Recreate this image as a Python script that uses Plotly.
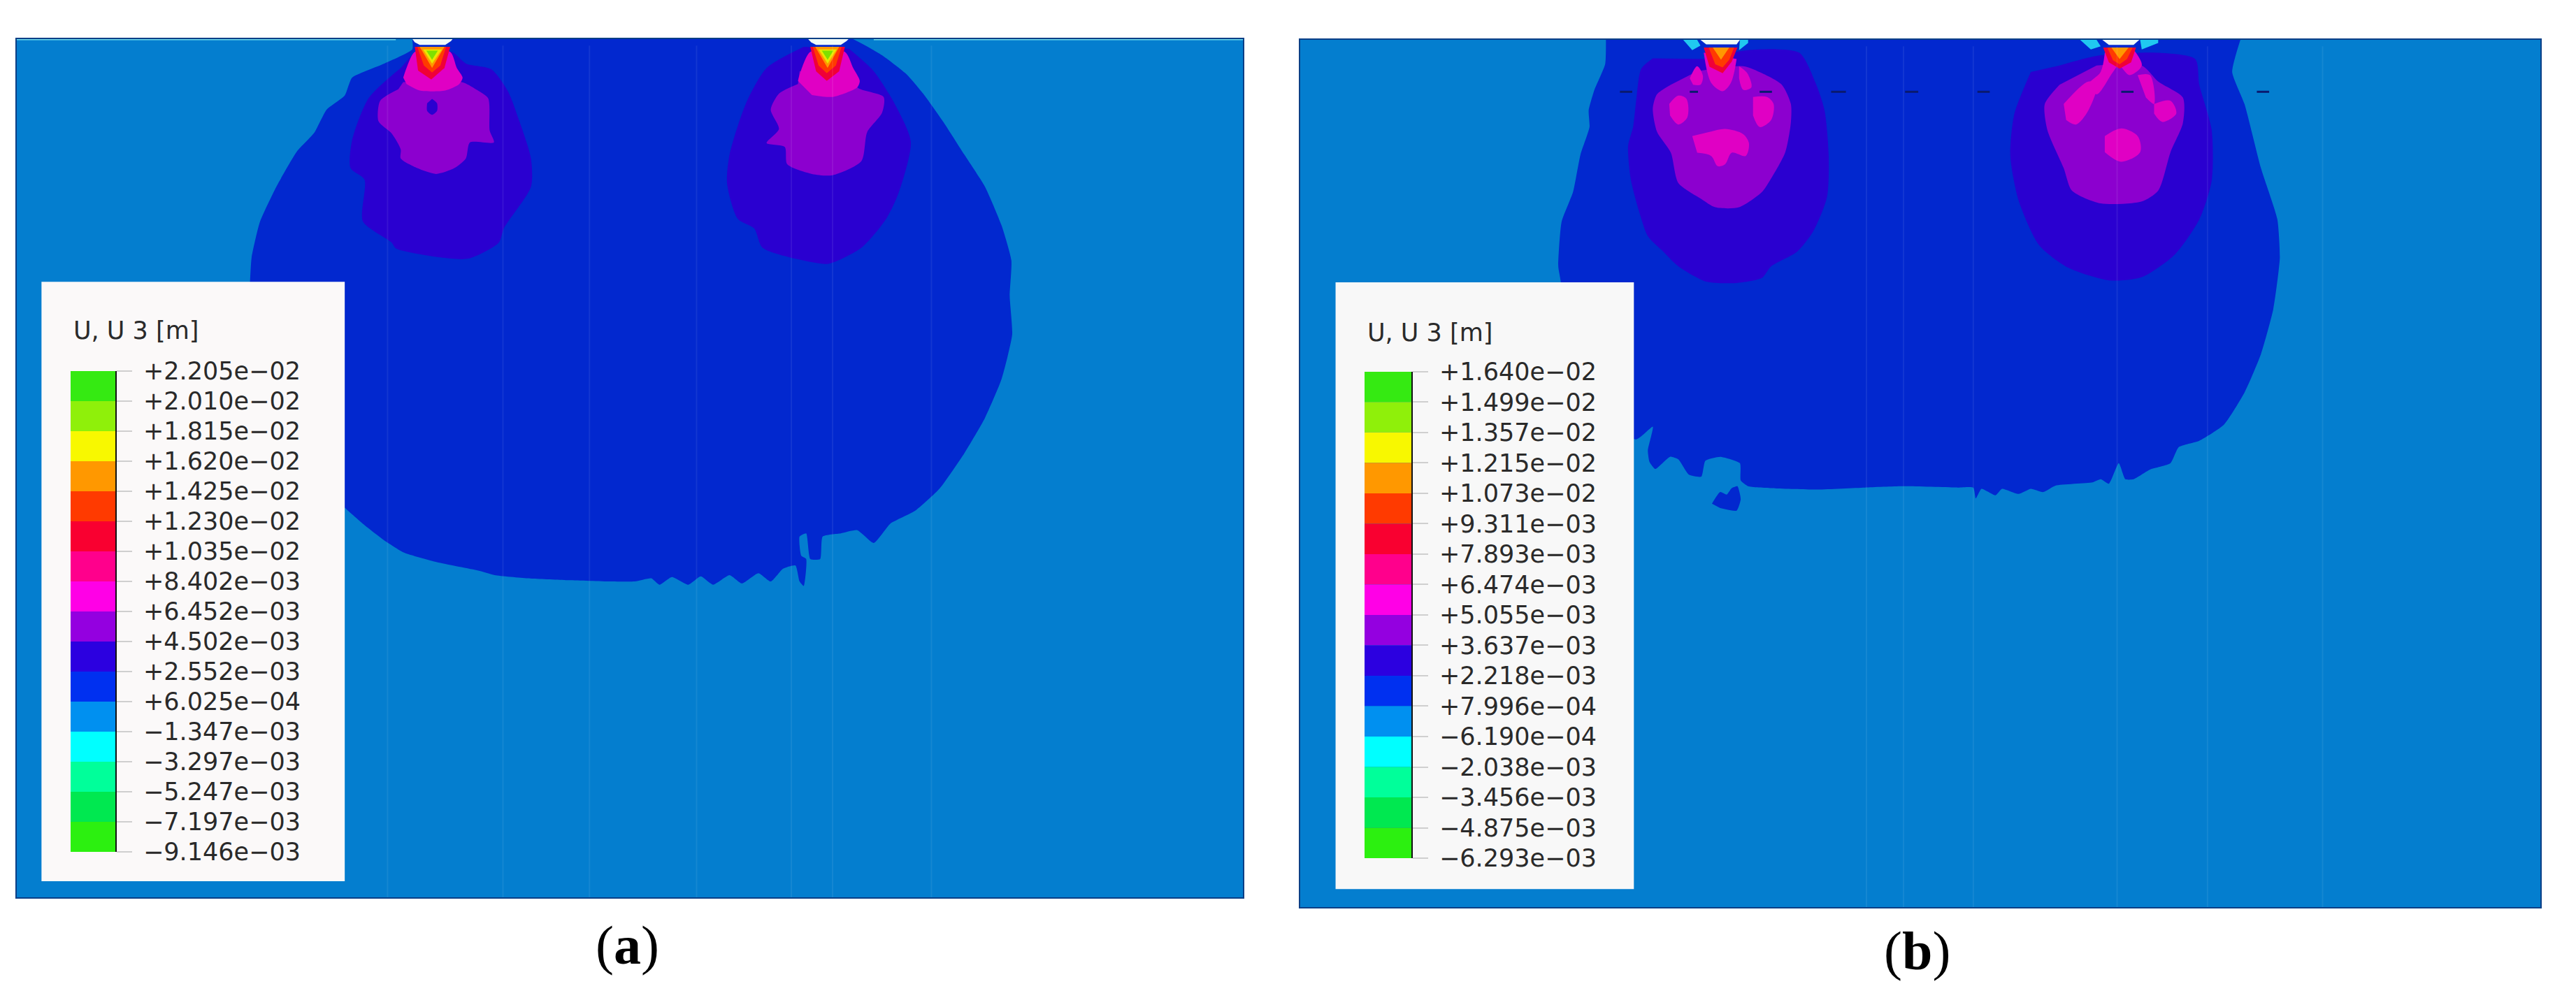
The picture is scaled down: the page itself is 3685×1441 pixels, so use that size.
import plotly.graph_objects as go

W, H = 3685, 1441
PAGE_GAP = 8  # the browser puts this gap round the page body

# colour legend values
labels_a = ['+2.205e−02', '+2.010e−02', '+1.815e−02', '+1.620e−02', '+1.425e−02', '+1.230e−02',
            '+1.035e−02', '+8.402e−03', '+6.452e−03', '+4.502e−03', '+2.552e−03', '+6.025e−04',
            '−1.347e−03', '−3.297e−03', '−5.247e−03', '−7.197e−03', '−9.146e−03']
labels_b = ['+1.640e−02', '+1.499e−02', '+1.357e−02', '+1.215e−02', '+1.073e−02', '+9.311e−03',
            '+7.893e−03', '+6.474e−03', '+5.055e−03', '+3.637e−03', '+2.218e−03', '+7.996e−04',
            '−6.190e−04', '−2.038e−03', '−3.456e−03', '−4.875e−03', '−6.293e−03']
levels_a = [float(s.replace('−', '-')) for s in labels_a]
levels_b = [float(s.replace('−', '-')) for s in labels_b]
band_colors = ['#35ea12', '#8ff00a', '#f8f800', '#ff9800', '#ff3a00', '#f90030', '#ff008c', '#ff00e6',
               '#9400e0', '#2c00e0', '#0030f0', '#0090f0', '#00ffff', '#00ff9a', '#00e850', '#2cf010']
dark_ticks_a = ['+2.205e−02', '+1.425e−02', '+1.230e−02', '+2.552e−03', '+6.025e−04', '−7.197e−03', '−9.146e−03']
dark_ticks_b = ['+1.640e−02', '+1.499e−02', '−6.293e−03']

# contour outlines, panel a
a_blue = [(500, 60), (500, 76), (466, 98), (427, 120), (418, 148), (396, 170), (381, 206), (360, 235), (335, 290),
          (315, 345), (305, 400), (303, 440), (300, 500), (340, 700), (418, 790), (440, 815), (465, 840), (490, 860),
          (530, 875), (580, 888), (600, 895), (640, 900), (690, 903), (740, 905), (770, 905), (790, 900), (800, 910),
          (815, 898), (835, 910), (850, 897), (865, 910), (885, 895), (900, 908), (920, 892), (935, 905), (950, 885),
          (965, 880), (970, 905), (975, 912), (978, 870), (972, 865), (970, 835), (978, 830), (983, 870), (995, 870),
          (998, 835), (1020, 830), (1040, 825), (1060, 845), (1080, 815), (1110, 795), (1140, 760), (1170, 705),
          (1195, 650), (1215, 590), (1228, 520), (1225, 460), (1227, 405), (1215, 350), (1195, 290), (1170, 240),
          (1145, 190), (1120, 145), (1100, 115), (1070, 85), (1050, 70), (1035, 60)]
a_indigo_1 = [(486, 105), (447, 152), (427, 217), (425, 261), (442, 279), (440, 344), (475, 377), (480, 386),
              (534, 400), (568, 402), (605, 377), (611, 355), (644, 290), (644, 246), (630, 188), (616, 141),
              (596, 107), (565, 98), (548, 80), (503, 80)]
a_purple_1 = [(483, 138), (461, 156), (459, 188), (475, 207), (486, 232), (486, 246), (506, 261), (529, 270),
              (551, 261), (565, 246), (570, 221), (599, 221), (594, 203), (592, 152), (577, 138), (560, 127), (489, 127)]
a_hole_1 = [(524, 153), (530, 160), (530, 172), (524, 178), (518, 172), (518, 160)]
a_magenta_1 = [(489, 120), (493, 105), (503, 80), (546, 80), (554, 105), (561, 120), (557, 130), (540, 140),
               (509, 140), (493, 130)]
a_red_1 = [(503, 72), (507, 109), (523, 123), (539, 105), (546, 72)]
a_redorange_1 = [(506, 72), (514, 101), (524, 112), (534, 101), (541, 72)]
a_orange_1 = [(509, 72), (524, 105), (539, 72)]
a_yellow_1 = [(513, 76), (524, 98), (536, 76)]
a_green_1 = [(517, 78), (524, 92), (531, 78)]
a_cap_1 = [(499, 58), (503, 65), (509, 69), (540, 69), (547, 63), (550, 58)]
a_indigo_2 = [(975, 72), (930, 105), (905, 160), (885, 240), (882, 285), (895, 340), (915, 355), (925, 385), (975, 405),
              (1005, 410), (1045, 385), (1075, 340), (1090, 300), (1105, 220), (1085, 160), (1060, 110), (1030, 75)]
a_purple_2 = [(968, 130), (945, 145), (935, 170), (945, 200), (930, 222), (952, 228), (955, 255), (985, 270),
              (1010, 272), (1045, 250), (1052, 205), (1070, 175), (1072, 150), (1040, 135), (1035, 110), (970, 110)]
a_magenta_2 = [(968, 125), (972, 108), (983, 80), (1025, 80), (1035, 105), (1043, 125), (1040, 135), (1010, 150),
               (985, 147)]
a_red_2 = [(983, 72), (990, 110), (1003, 125), (1018, 110), (1025, 72)]
a_redorange_2 = [(986, 72), (993, 101), (1003, 113), (1014, 101), (1021, 72)]
a_orange_2 = [(989, 72), (1004, 105), (1018, 72)]
a_yellow_2 = [(993, 76), (1004, 98), (1015, 76)]
a_green_2 = [(997, 78), (1004, 92), (1011, 78)]
a_cap_2 = [(979, 58), (984, 65), (990, 69), (1020, 69), (1027, 63), (1031, 58)]
a_streak_x = [470, 610, 715, 845, 960, 1010, 1130]

# contour outlines, panel b
b_blue = [(388, 60), (387, 98), (374, 138), (367, 170), (368, 196), (357, 239), (348, 297), (334, 344), (330, 413),
          (333, 437), (340, 560), (424, 683), (445, 663), (439, 700), (441, 718), (448, 729), (466, 710), (476, 714),
          (489, 738), (504, 741), (509, 716), (527, 710), (551, 720), (552, 747), (561, 756), (589, 759), (646, 761),
          (703, 758), (748, 756), (816, 758), (835, 758), (838, 775), (845, 760), (862, 770), (870, 760), (890, 768),
          (905, 760), (920, 765), (935, 755), (980, 750), (990, 745), (1000, 752), (1012, 720), (1020, 745), (1030, 745),
          (1050, 730), (1075, 720), (1085, 695), (1110, 685), (1140, 660), (1165, 610), (1185, 550), (1200, 480),
          (1208, 400), (1205, 340), (1185, 260), (1165, 160), (1150, 110), (1160, 60)]
b_island = [(517, 783), (527, 765), (535, 769), (541, 759), (548, 756), (552, 776), (547, 794), (527, 790)]
b_indigo_1 = [(445, 89), (431, 105), (425, 152), (421, 196), (415, 225), (418, 276), (428, 326), (439, 366), (456, 388),
              (476, 413), (510, 437), (547, 439), (578, 431), (589, 413), (620, 391), (640, 359), (657, 305), (659, 239),
              (654, 170), (643, 127), (623, 80), (561, 76), (510, 90)]
b_purple_1 = [(467, 130), (450, 145), (445, 167), (450, 203), (467, 236), (476, 283), (504, 308), (521, 321), (550, 321),
              (578, 297), (589, 276), (606, 236), (613, 189), (613, 160), (602, 130), (578, 112), (555, 101), (499, 109)]
b_blobs_1 = [[(465, 160), (476, 147), (486, 152), (487, 181), (476, 192), (466, 178)],
             [(567, 149), (584, 149), (592, 160), (589, 185), (575, 196), (567, 178)],
             [(493, 210), (516, 203), (533, 199), (555, 207), (562, 221), (558, 241), (541, 236), (533, 254), (524, 257),
              (516, 241), (499, 236)],
             [(490, 120), (499, 101), (506, 116), (503, 130), (494, 130)],
             [(507, 80), (516, 127), (530, 140), (540, 127), (547, 90)],
             [(550, 101), (560, 112), (565, 134), (555, 138), (550, 120)]]
b_red_1 = [(507, 72), (514, 102), (530, 112), (541, 94), (548, 72)]
b_redorange_1 = [(513, 72), (521, 98), (530, 103), (538, 91), (544, 72)]
b_orange_1 = [(518, 72), (528, 91), (538, 72)]
b_cap_1 = [(503, 60), (510, 67), (547, 67), (551, 60)]
b_cyan_1 = [[(482, 60), (493, 76), (503, 69), (499, 60)], [(551, 60), (550, 76), (561, 65), (561, 60)]]
b_indigo_2 = [(905, 110), (885, 175), (880, 240), (890, 310), (915, 380), (950, 415), (1000, 435), (1040, 430), (1080, 395),
              (1110, 340), (1125, 280), (1125, 200), (1110, 130), (1105, 90), (1055, 80), (985, 85), (940, 100)]
b_purple_2 = [(940, 130), (922, 160), (925, 200), (945, 260), (955, 295), (990, 315), (1040, 312), (1060, 295), (1075, 235),
              (1090, 190), (1090, 150), (1060, 125), (1040, 100), (985, 100)]
b_blobs_2 = [[(945, 160), (975, 125), (985, 130), (975, 170), (960, 192), (948, 185)],
             [(1055, 160), (1075, 155), (1082, 175), (1065, 188), (1055, 175)],
             [(995, 210), (1015, 198), (1035, 210), (1038, 235), (1015, 250), (995, 235)],
             [(995, 80), (990, 110), (975, 130), (985, 145), (1005, 110), (1012, 100), (1025, 115), (1040, 100), (1030, 75)],
             [(1035, 115), (1050, 115), (1055, 160), (1045, 150)]]
b_red_2 = [(993, 72), (1000, 95), (1013, 105), (1027, 95), (1033, 72)]
b_redorange_2 = [(998, 72), (1005, 92), (1013, 98), (1022, 90), (1029, 72)]
b_orange_2 = [(1003, 72), (1013, 90), (1024, 72)]
b_cap_2 = [(992, 60), (1000, 68), (1030, 68), (1037, 60)]
b_cyan_2 = [[(965, 60), (978, 75), (990, 70), (985, 60)], [(1038, 60), (1040, 75), (1060, 65), (1060, 60)]]
b_dash_x = [405, 420, None, 490, 500, None, 575, 590, None, 662, 680, None, 752, 768, None, 840, 855, None, 1015, 1030, None, 1180, 1195]
b_dash_y = [141, 141, None, 141, 141, None, 141, 141, None, 141, 141, None, 141, 141, None, 141, 141, None, 141, 141, None, 141, 141]
b_streak_x = [705, 750, 835, 1010, 1120, 1260]

a_legend_box = [(50, 438), (418, 438), (418, 1372), (50, 1372)]
b_legend_box = [(59, 438), (422, 438), (422, 1384), (59, 1384)]

BG = '#047ecf'
BLUE = '#0228cf'
INDIGO = '#2a00d0'
PURPLE = '#8c00cf'
MAGENTA = '#e000c4'
RED = '#f00038'
REDORANGE = '#ff3a00'
ORANGE = '#ff9800'
YELLOW = '#e8e800'
GREEN = '#7fe000'
CYAN = '#20c8f0'
CAP = '#f0fbf8'


def poly(fig, pts, color, ax, smooth=0):
    x, y = ax
    fig.add_trace(go.Scatter(x=[p[0] for p in pts], y=[p[1] for p in pts], mode='lines', fill='toself',
                             fillcolor=color, hoverinfo='skip', showlegend=False, xaxis=x, yaxis=y,
                             line=dict(width=0, color=color, shape='spline' if smooth else 'linear', smoothing=smooth)))


def streaks(fig, xs, y_top, y_bottom, ax):
    sx, sy = [], []
    for v in xs:
        sx += [v, v, None]
        sy += [y_top, y_bottom, None]
    fig.add_trace(go.Scatter(x=sx, y=sy, mode='lines', hoverinfo='skip', showlegend=False, xaxis=ax[0], yaxis=ax[1],
                             line=dict(color='rgba(255,255,255,0.07)', width=2)))


def px(x):
    return (x - PAGE_GAP) / W


def py(y):
    return 1 - (y - PAGE_GAP) / H


def xdomain(lo, hi):
    return [px(lo), px(hi)]


def ydomain(top, bottom):
    return [py(bottom), py(top)]


fig = go.Figure()

# panel a
ax = ('x', 'y')
poly(fig, a_blue, BLUE, ax, smooth=0.5)
for pts, c in [(a_indigo_1, INDIGO), (a_indigo_2, INDIGO), (a_purple_1, PURPLE), (a_purple_2, PURPLE), (a_hole_1, INDIGO),
               (a_magenta_1, MAGENTA), (a_magenta_2, MAGENTA), (a_red_1, RED), (a_red_2, RED),
               (a_redorange_1, REDORANGE), (a_redorange_2, REDORANGE), (a_orange_1, ORANGE), (a_orange_2, ORANGE),
               (a_yellow_1, YELLOW), (a_yellow_2, YELLOW), (a_green_1, GREEN), (a_green_2, GREEN)]:
    poly(fig, pts, c, ax, smooth=0.7 if c in (INDIGO, PURPLE, MAGENTA) else 0)
poly(fig, a_cap_1, CAP, ax)
poly(fig, a_cap_2, CAP, ax)
streaks(fig, a_streak_x, 70, 1397, ax)
poly(fig, a_legend_box, '#fbf9f9', ax)
fig.add_trace(go.Scatter(x=[20, 480, None, 1060, 1508], y=[60, 60, None, 60, 60], mode='lines', hoverinfo='skip',
                         showlegend=False, line=dict(color='#6fd8ea', width=3), cliponaxis=False))

# panel b
ax = ('x2', 'y2')
poly(fig, b_blue, BLUE, ax, smooth=0.5)
poly(fig, b_island, BLUE, ax, smooth=0.5)
for pts, c in [(b_indigo_1, INDIGO), (b_indigo_2, INDIGO), (b_purple_1, PURPLE), (b_purple_2, PURPLE)]:
    poly(fig, pts, c, ax, smooth=0.7)
for blob in b_blobs_1 + b_blobs_2:
    poly(fig, blob, MAGENTA, ax, smooth=0.9)
for pts, c in [(b_red_1, RED), (b_red_2, RED), (b_redorange_1, REDORANGE), (b_redorange_2, REDORANGE),
               (b_orange_1, ORANGE), (b_orange_2, ORANGE)]:
    poly(fig, pts, c, ax)
for blob in b_cyan_1 + b_cyan_2:
    poly(fig, blob, CYAN, ax)
poly(fig, b_cap_1, CAP, ax)
poly(fig, b_cap_2, CAP, ax)
streaks(fig, b_streak_x, 70, 1412, ax)
poly(fig, b_legend_box, '#f8f8f8', ax)
fig.add_trace(go.Scatter(x=b_dash_x, y=b_dash_y, mode='lines', hoverinfo='skip', showlegend=False, xaxis='x2', yaxis='y2',
                         line=dict(color='#0a1a70', width=3)))

# colour bars
for levels, labels, dark, xa, ya in [(levels_a, labels_a, dark_ticks_a, 'x3', 'y3'), (levels_b, labels_b, dark_ticks_b, 'x4', 'y4')]:
    lows = levels[1:]
    fig.add_trace(go.Bar(x=[0.5] * 16, y=[h - l for h, l in zip(levels[:-1], lows)], base=lows, width=1,
                         marker=dict(color=band_colors, line_width=0), hoverinfo='skip', showlegend=False,
                         xaxis=xa, yaxis=ya))
    tx, ty = [], []
    for lab in dark:
        v = levels[labels.index(lab)]
        tx += [1, 1.35, None]
        ty += [v, v, None]
    fig.add_trace(go.Scatter(x=tx, y=ty, mode='lines', hoverinfo='skip', showlegend=False, xaxis=xa, yaxis=ya,
                             cliponaxis=False, line=dict(color='#333333', width=2)))

frame = dict(showline=True, mirror=True, linecolor='#0b3f86', linewidth=2, ticks='', showticklabels=False, showgrid=False,
             zeroline=False, automargin=False)
bar_x = dict(range=[0, 1], visible=False, automargin=False)
label_font = dict(family='DejaVu Sans', size=35, color='#2a2a2a')


def bar_y(levels, labels, anchor, dom):
    return dict(domain=dom, anchor=anchor, side='right', range=[levels[-1], levels[0]], tickmode='array', tickvals=levels,
                ticktext=labels, ticks='outside', ticklen=22, tickwidth=2, tickcolor='#cfcfcf', tickfont=label_font,
                showgrid=False, zeroline=False, showline=True, linecolor='#111111', linewidth=2, ticklabelstandoff=9,
                automargin=False)


fig.update_layout(
    width=W, height=H, margin=dict(l=0, r=0, t=0, b=0, autoexpand=False), paper_bgcolor='white', plot_bgcolor=BG,
    barmode='overlay',
    xaxis=dict(domain=xdomain(24, 1778), range=[20, 1508], anchor='y', **frame),
    yaxis=dict(domain=ydomain(56, 1284), range=[1397, 60], anchor='x', **frame),
    xaxis2=dict(domain=xdomain(1860, 3634), range=[16, 1525], anchor='y2', **frame),
    yaxis2=dict(domain=ydomain(57, 1298), range=[1412, 60], anchor='x2', **frame),
    xaxis3=dict(domain=xdomain(101, 165), anchor='y3', **bar_x),
    yaxis3=bar_y(levels_a, labels_a, 'x3', ydomain(531, 1219)),
    xaxis4=dict(domain=xdomain(1952, 2019), anchor='y4', **bar_x),
    yaxis4=bar_y(levels_b, labels_b, 'x4', ydomain(532, 1228)),
    annotations=[
        dict(text='U, U 3 [m]', x=px(103), y=py(473), xref='paper', yref='paper', xanchor='left', yanchor='middle',
             showarrow=False, font=label_font),
        dict(text='U, U 3 [m]', x=px(1954), y=py(476), xref='paper', yref='paper', xanchor='left', yanchor='middle',
             showarrow=False, font=label_font),
        dict(text='(<b>a</b>)', x=px(897), y=py(1352), xref='paper', yref='paper', xanchor='center', yanchor='middle',
             showarrow=False, font=dict(family='Liberation Serif', size=78, color='black')),
        dict(text='(<b>b</b>)', x=px(2742), y=py(1360), xref='paper', yref='paper', xanchor='center', yanchor='middle',
             showarrow=False, font=dict(family='Liberation Serif', size=78, color='black')),
    ],
)

fig.write_html("out.html")
